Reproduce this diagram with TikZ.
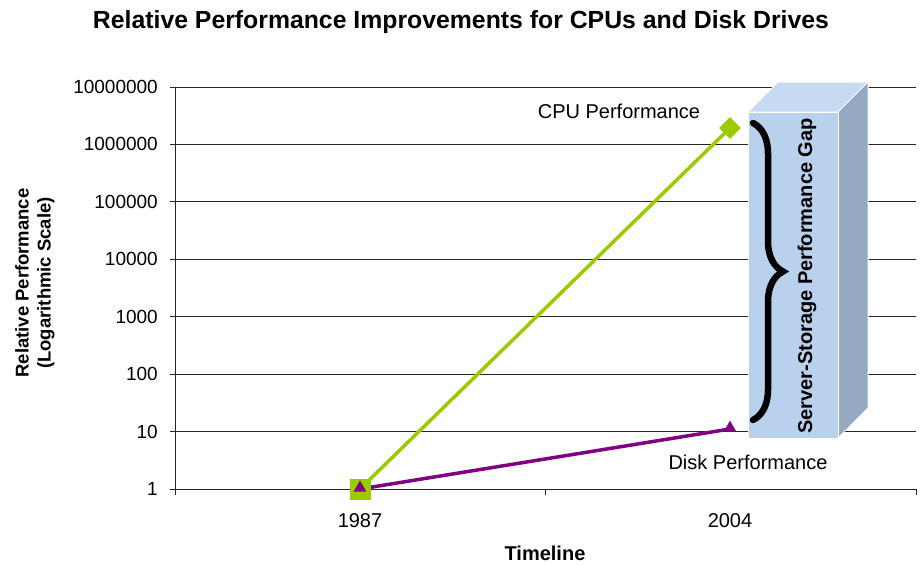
\documentclass[tikz,border=0pt]{standalone}
\usepackage{fontspec}
\setmainfont{Liberation Sans}
\usetikzlibrary{positioning,shapes.geometric,decorations.pathreplacing}
\definecolor{cpugreen}{HTML}{99CC00}
\definecolor{diskpurple}{HTML}{800080}
\definecolor{boxfront}{HTML}{B9D1EC}
\definecolor{boxtop}{HTML}{C6DAF1}
\definecolor{boxside}{HTML}{95A9C2}
\begin{document}
\begin{tikzpicture}[x=1pt,y=-1pt,
  grid/.style={draw=black!85,line width=0.8pt},
  tick/.style={font=\fontsize{19}{19}\selectfont,anchor=east,inner sep=0pt},
  lbl/.style={font=\fontsize{20}{22}\selectfont,inner sep=0pt},
  bold lbl/.style={font=\bfseries\fontsize{20}{22}\selectfont,inner sep=0pt,align=center},
  series/.style={line width=3.5pt},
  cpumark/.style={draw=none,fill=cpugreen,inner sep=0pt},
  diskmark/.style={isosceles triangle,isosceles triangle apex angle=60,shape border rotate=90,
    fill=diskpurple,inner sep=0pt,minimum width=12pt,minimum height=11pt}]
  \useasboundingbox (0,0) rectangle (922,565);

  % grid and axes
  \foreach \v/\t in {0/1,1/10,2/100,3/1000,4/10000,5/100000,6/1000000,7/10000000}{
    \coordinate (gl\v) at (175,489-57.43*\v);
    \coordinate (gr\v) at (916,489-57.43*\v);
    \draw[grid] (gl\v) -- (gr\v);
    \draw[grid] (gl\v) -- ++(-5,0);
    \node[tick] (t\v) at (158,489-57.43*\v) {\t};
  }
  \draw[grid] (gl0) -- (gl7);
  \foreach \x in {175,545.5,916}
    \draw[grid] (\x,489) -- ++(0,6);

  % the gap box
  \filldraw[fill=boxtop,draw=white,line width=1pt] (748,112) -- (778,82) -- (868,82) -- (838,112) -- cycle;
  \filldraw[fill=boxside,draw=white,line width=1pt] (838,112) -- (868,82) -- (868,408) -- (838,438) -- cycle;
  \filldraw[fill=boxfront,draw=white,line width=1pt] (748,112) rectangle (838,438);
  \coordinate (bt) at (753,123);
  \coordinate (bb) at (753,420);
  \draw[line width=6.5pt,line cap=round,decorate,decoration={brace,amplitude=30pt,aspect=0.5}] (bt) -- (bb);
  \node[bold lbl,rotate=90] (gap) at (807,276) {Server-Storage Performance Gap};

  % series
  \coordinate (cpu87) at (360,489);
  \coordinate (cpu04) at (730,128);
  \coordinate (disk87) at (360,489);
  \coordinate (disk04) at (730,429);
  \draw[series,cpugreen] (cpu87) -- (cpu04);
  \draw[series,diskpurple] (disk87) -- (disk04);
  \node[cpumark,minimum size=21pt] (cpuA) at (cpu87) {};
  \node[cpumark,diamond,minimum size=22pt] (cpuB) at (cpu04) {};
  \node[diskmark] (diskA) at (360,488) {};
  \node[diskmark] (diskB) at (730,428) {};

  % labels
  \node[lbl] (cpulbl) at (619,111) {CPU Performance};
  \node[lbl] (disklbl) at (748,462) {Disk Performance};
  \node[lbl] (y87) at (360,521) {1987};
  \node[lbl] (y04) at (730,521) {2004};
  \node[bold lbl] (xlab) at (545,553) {Timeline};
  \node[bold lbl,font=\bfseries\fontsize{18.5}{22}\selectfont,rotate=90] (ylab) at (35,283)
    {Relative Performance\\(Logarithmic Scale)};
  \node[font=\bfseries\fontsize{24.8}{25}\selectfont,inner sep=0pt] (title) at (461,22)
    {Relative Performance Improvements for CPUs and Disk Drives};
\end{tikzpicture}
\end{document}
